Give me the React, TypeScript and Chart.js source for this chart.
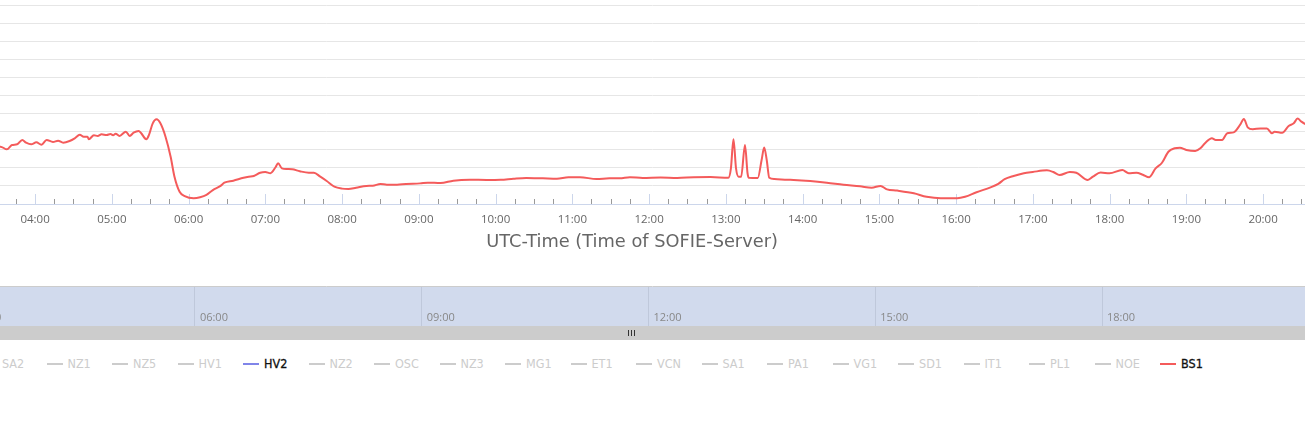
import React, { useEffect, useRef } from "react";
import { Chart, registerables } from "chart.js";

Chart.register(...registerables);

// ---------- data ----------
const times = [
  "03:30", "03:33", "03:38", "03:42", "03:46", "03:50", "03:53", "03:57", "04:01", "04:05",
  "04:09", "04:14", "04:18", "04:22", "04:27", "04:31", "04:35", "04:38", "04:41", "04:42",
  "04:46", "04:49", "04:52", "04:56", "04:59", "05:01", "05:03", "05:06", "05:11", "05:14",
  "05:17", "05:21", "05:23", "05:27", "05:29", "05:32", "05:35", "05:38", "05:42", "05:46",
  "05:49", "05:53", "05:57", "06:04", "06:09", "06:14", "06:19", "06:25", "06:28", "06:35",
  "06:43", "06:47", "06:51", "06:56", "07:00", "07:04", "07:08", "07:10", "07:13", "07:17",
  "07:21", "07:27", "07:34", "07:38", "07:43", "07:48", "07:54", "08:00", "08:05", "08:11",
  "08:19", "08:24", "08:30", "08:35", "08:43", "08:50", "09:01", "09:07", "09:17", "09:27",
  "09:40", "09:53", "10:04", "10:14", "10:24", "10:37", "10:48", "10:57", "11:06", "11:19",
  "11:29", "11:37", "11:45", "11:55", "12:09", "12:22", "12:35", "12:48", "13:02", "13:04",
  "13:06", "13:08", "13:10", "13:12", "13:15", "13:17", "13:18", "13:25", "13:28", "13:30",
  "13:32", "13:34", "13:38", "13:48", "13:53", "14:06", "14:19", "14:32", "14:45", "14:54",
  "15:01", "15:06", "15:14", "15:27", "15:37", "15:48", "16:01", "16:07", "16:16", "16:27",
  "16:33", "16:38", "16:45", "16:53", "17:00", "17:11", "17:16", "17:21", "17:29", "17:34",
  "17:43", "17:47", "17:53", "18:00", "18:10", "18:15", "18:21", "18:26", "18:31", "18:36",
  "18:41", "18:46", "18:51", "18:55", "19:00", "19:07", "19:11", "19:15", "19:20", "19:23",
  "19:28", "19:32", "19:37", "19:42", "19:45", "19:48", "19:52", "19:58", "20:03", "20:07",
  "20:09", "20:15", "20:20", "20:24", "20:27", "20:30", "20:33", "20:36",
];

const bs1Values = [
  31.5, 31.7, 30.2, 32.6, 33.0, 35.4, 33.9, 33.0, 34.1, 32.8,
  35.4, 34.3, 35.0, 33.9, 34.8, 36.3, 38.3, 37.2, 37.2, 35.8,
  38.0, 37.6, 38.5, 38.1, 38.7, 38.0, 38.9, 37.6, 40.0, 37.6,
  39.4, 40.4, 39.1, 35.8, 38.1, 44.6, 46.8, 44.6, 37.2, 26.1,
  15.1, 6.8, 4.4, 3.2, 3.7, 5.0, 7.7, 10.0, 11.8, 12.9,
  14.5, 15.1, 15.5, 17.3, 17.7, 17.0, 20.3, 22.5, 19.7, 19.3,
  19.2, 18.1, 17.3, 17.3, 15.1, 12.7, 9.6, 8.5, 8.3, 9.0,
  10.0, 10.1, 11.1, 10.7, 10.7, 11.1, 11.4, 11.8, 11.6, 12.9,
  13.4, 13.3, 13.4, 14.0, 14.4, 14.2, 14.0, 14.8, 14.8, 13.8,
  14.2, 14.2, 14.8, 14.4, 14.6, 14.4, 14.8, 14.9, 14.5, 19.7,
  35.8, 19.7, 15.1, 15.1, 32.6, 17.0, 14.5, 14.4, 24.3, 31.3,
  24.3, 14.5, 13.8, 13.4, 13.3, 12.7, 11.8, 10.7, 9.8, 9.0,
  10.0, 8.1, 7.4, 5.9, 4.0, 3.2, 3.2, 4.0, 6.5, 9.2,
  11.1, 13.7, 15.5, 17.0, 17.7, 18.6, 17.7, 16.0, 17.7, 17.3,
  13.3, 15.1, 17.4, 17.0, 18.8, 17.0, 17.3, 16.2, 14.8, 19.7,
  22.8, 28.9, 30.8, 31.1, 29.9, 29.3, 30.8, 33.9, 36.3, 35.4,
  35.4, 39.1, 39.6, 43.7, 47.0, 42.4, 41.3, 41.8, 41.8, 39.1,
  40.0, 39.4, 43.1, 44.6, 47.2, 45.5, 44.2, 43.5,
];

const seriesNames = [
  "SA2", "NZ1", "NZ5", "HV1", "HV2", "NZ2", "OSC", "NZ3", "MG1", "ET1",
  "VCN", "SA1", "PA1", "VG1", "SD1", "IT1", "PL1", "NOE", "BS1",
];
const shownSeries = ["HV2", "BS1"];
const dataSeries = "BS1";
const navigatorSeries = "HV2";
const palette = [
  "#7cb5ec", "#434348", "#90ed7d", "#f7a35c", "#8085e9",
  "#f15c80", "#e4d354", "#2b908f", "#f45b5b", "#91e8e1",
];

const hourTicks = [
  "04:00", "05:00", "06:00", "07:00", "08:00", "09:00", "10:00", "11:00", "12:00",
  "13:00", "14:00", "15:00", "16:00", "17:00", "18:00", "19:00", "20:00",
];
const navTicks = ["03:00", "06:00", "09:00", "12:00", "15:00", "18:00"];
const yGridValues = [10, 20, 30, 40, 50, 60, 70, 80, 90, 100, 110];
const yMin = 0;
const yMax = 110;
const minorTickMinutes = 15;
const viewStart = "03:32:36";
const viewEnd = "20:32:48";
const navStart = "03:25:18";
const navEnd = "20:41:06";
const axisTitle = "UTC-Time (Time of SOFIE-Server)";

// ---------- helpers ----------
const toMin = (s: string): number => {
  const p = s.split(":").map(Number);
  return p[0] * 60 + p[1] + (p[2] || 0) / 60;
};

const FONT = "'Open Sans', 'DejaVu Sans', sans-serif";
const TITLE_FONT = "'DejaVu Sans', 'Open Sans', sans-serif";
const LEGEND_FONT = "'DejaVu Sans Condensed', 'Roboto', sans-serif";
const W = 1305;
const CENTER_X = 632; // centre of the (wider) original chart container

const insideTicksPlugin = {
  id: "insideTicks",
  beforeDatasetsDraw(chart: any) {
    const x = chart.scales.x;
    const ctx = chart.ctx;
    const bottom = chart.chartArea.bottom;
    ctx.save();
    ctx.lineWidth = 1;
    for (let m = Math.ceil(x.min / minorTickMinutes) * minorTickMinutes; m <= x.max; m += minorTickMinutes) {
      const px = Math.round(x.getPixelForValue(m)) + 0.5;
      const major = m % 60 === 0;
      ctx.strokeStyle = major ? "#ccd6eb" : "#999999";
      ctx.beginPath();
      ctx.moveTo(px, bottom);
      ctx.lineTo(px, bottom - (major ? 10 : 5));
      ctx.stroke();
    }
    ctx.restore();
  },
  afterDraw(chart: any) {
    const ctx = chart.ctx;
    const x = chart.scales.x;
    ctx.save();
    ctx.fillStyle = "#666666";
    ctx.font = `17.8px ${TITLE_FONT}`;
    ctx.textAlign = "center";
    ctx.textBaseline = "middle";
    ctx.fillText(axisTitle, CENTER_X, x.bottom + 6);
    ctx.restore();
  },
};

const navigatorPlugin = {
  id: "navigatorDeco",
  beforeDatasetsDraw(chart: any) {
    const { ctx, chartArea } = chart;
    ctx.save();
    ctx.fillStyle = "rgba(102,133,194,0.3)";
    ctx.fillRect(0, chartArea.top, chart.width, chartArea.bottom - chartArea.top);
    ctx.restore();
  },
  afterDraw(chart: any) {
    const { ctx, chartArea } = chart;
    const x = chart.scales.x;
    ctx.save();
    ctx.strokeStyle = "#cccccc";
    ctx.lineWidth = 1;
    ctx.beginPath();
    ctx.moveTo(0, chartArea.top - 0.5);
    ctx.lineTo(chart.width, chartArea.top - 0.5);
    ctx.stroke();
    ctx.fillStyle = "#888888";
    ctx.font = `11px ${FONT}`;
    ctx.textBaseline = "middle";
    ctx.textAlign = "left";
    navTicks.forEach((t) => {
      const px = x.getPixelForValue(toMin(t));
      ctx.fillText(t, px + 5, chartArea.bottom - 8);
    });
    ctx.fillStyle = "#cccccc";
    ctx.fillRect(0, chartArea.bottom, chart.width, 14);
    ctx.strokeStyle = "#333333";
    [-3, 0, 3].forEach((d) => {
      ctx.beginPath();
      ctx.moveTo(CENTER_X - 1 + d + 0.5, chartArea.bottom + 4);
      ctx.lineTo(CENTER_X - 1 + d + 0.5, chartArea.bottom + 10);
      ctx.stroke();
    });
    ctx.restore();
  },
};

export default function App() {
  const mainRef = useRef<HTMLCanvasElement>(null);
  const navRef = useRef<HTMLCanvasElement>(null);

  useEffect(() => {
    const datasets = seriesNames.map((name, i) => ({
      label: name,
      data:
        name === dataSeries
          ? times.map((t, k) => ({ x: toMin(t), y: bs1Values[k] }))
          : [],
      borderColor: palette[i % palette.length],
      backgroundColor: palette[i % palette.length],
      borderWidth: 2,
      pointRadius: 0,
      cubicInterpolationMode: "monotone" as const,
      fill: false,
      hidden: !shownSeries.includes(name),
    }));

    const main = new Chart(mainRef.current!, {
      type: "line",
      data: { datasets },
      options: {
        animation: false,
        responsive: false,
        layout: { padding: { top: 5, left: 0, right: 0, bottom: 24 } },
        plugins: { legend: { display: false }, tooltip: { enabled: false } },
        scales: {
          x: {
            type: "linear",
            min: toMin(viewStart),
            max: toMin(viewEnd),
            afterBuildTicks: (scale: any) => {
              scale.ticks = hourTicks.map((t) => ({ value: toMin(t) }));
            },
            ticks: {
              autoSkip: false,
              maxRotation: 0,
              padding: 9,
              color: "#666666",
              font: { family: FONT, size: 11.5, lineHeight: "14px" },
              callback: (_v: any, i: number) => hourTicks[i],
            },
            grid: { display: false, drawTicks: false },
            border: { display: true, color: "#ccd6eb", width: 1 },
            title: { display: false },
          },
          y: {
            min: yMin,
            max: yMax,
            afterBuildTicks: (scale: any) => {
              scale.ticks = yGridValues.map((v) => ({ value: v }));
            },
            ticks: { display: false },
            grid: { color: "#e6e6e6", drawTicks: false },
            border: { display: false },
          },
        },
      },
      plugins: [insideTicksPlugin],
    });

    const navIdx = seriesNames.indexOf(navigatorSeries);
    const nav = new Chart(navRef.current!, {
      type: "line",
      data: {
        datasets: [
          {
            label: navigatorSeries,
            data: [],
            borderColor: palette[navIdx % palette.length],
            borderWidth: 1,
            pointRadius: 0,
          },
        ],
      },
      options: {
        animation: false,
        responsive: false,
        layout: { padding: { top: 1, left: 0, right: 0, bottom: 14 } },
        plugins: { legend: { display: false }, tooltip: { enabled: false } },
        scales: {
          x: {
            type: "linear",
            min: toMin(navStart),
            max: toMin(navEnd),
            afterBuildTicks: (scale: any) => {
              scale.ticks = navTicks.map((t) => ({ value: toMin(t) }));
            },
            ticks: { display: false },
            grid: { color: "#e6e6e6", drawTicks: false },
            border: { display: false },
          },
          y: { display: false, min: 0, max: 1 },
        },
      },
      plugins: [navigatorPlugin],
    });

    return () => {
      main.destroy();
      nav.destroy();
    };
  }, []);

  return (
    <div style={{ position: "absolute", left: 0, top: 0, width: W, height: 435, overflow: "hidden", background: "#fff" }}>
      <canvas ref={mainRef} width={W} height={260} style={{ position: "absolute", left: 0, top: 0, display: "block" }} />
      <canvas ref={navRef} width={W} height={54} style={{ position: "absolute", left: 0, top: 286, display: "block" }} />
      <div style={{ position: "absolute", left: 0, top: 356, width: W, height: 16 }}>
        {seriesNames.map((name, i) => {
          const shown = shownSeries.includes(name);
          return (
            <div
              key={name}
              style={{
                position: "absolute",
                left: 2 + i * 65.5 - 21,
                top: 0,
                height: 16,
                display: "flex",
                alignItems: "center",
                whiteSpace: "nowrap",
              }}
            >
              <span
                style={{
                  display: "inline-block",
                  width: 16,
                  height: 2,
                  marginRight: 5,
                  background: shown ? palette[i % palette.length] : "#cccccc",
                }}
              />
              <span
                style={{
                  fontFamily: LEGEND_FONT,
                  fontSize: 12.5,
                  fontWeight: 400,
                  lineHeight: "16px",
                  color: shown ? "#111111" : "#cccccc",
                  WebkitTextStroke: shown ? "0.3px #111111" : undefined,
                }}
              >
                {name}
              </span>
            </div>
          );
        })}
      </div>
    </div>
  );
}
